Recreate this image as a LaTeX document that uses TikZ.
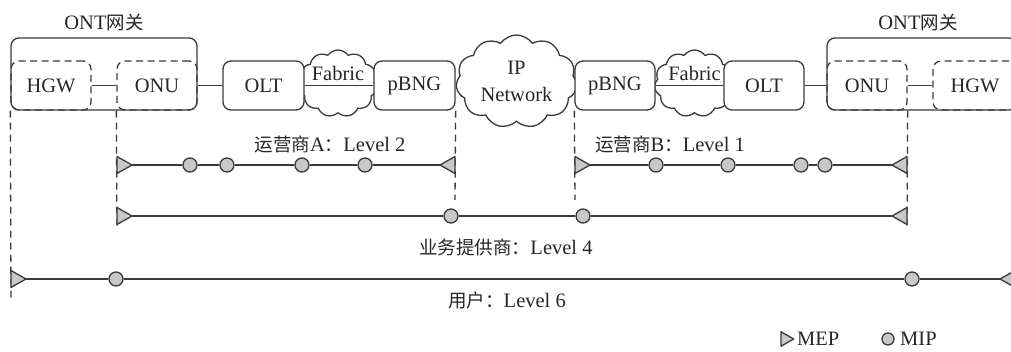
\documentclass[tikz,border=0pt]{standalone}
\usepackage{fontspec}
\setmainfont{Liberation Serif}
\newfontfamily\cjk{Noto Sans CJK SC}
\usetikzlibrary{shapes.symbols}

\definecolor{ink}{HTML}{262626}
\definecolor{wire}{HTML}{3A3A3A}
\definecolor{markfill}{HTML}{C8C8C8}

\newcommand\lblsize{\fontsize{20.5}{27}\selectfont}
\newcommand\zh[1]{{\cjk\fontsize{18.5}{27}\selectfont #1}}

\tikzset{
  every node/.style={text=ink},
  unitbox/.style={draw=wire, line width=1.3pt, rounded corners=8pt, fill=white,
    minimum width=81pt, minimum height=49pt, inner sep=0pt, font=\lblsize},
  ontbox/.style={draw=wire, line width=1.3pt, rounded corners=8pt,
    minimum height=72pt, inner sep=0pt},
  subbox/.style={draw=wire, line width=1.3pt, rounded corners=8pt,
    dash pattern=on 7pt off 4.5pt, minimum width=80pt, minimum height=49pt,
    inner sep=0pt, font=\lblsize},
  netcloud/.style={cloud, cloud puffs=11, cloud puff arc=110, cloud ignores aspect,
    draw=wire, line width=1.3pt, fill=white, inner sep=0pt, font=\lblsize},
  link/.style={draw=wire, line width=1.3pt},
  guide/.style={draw=wire, line width=1.3pt, dash pattern=on 7pt off 5pt},
  level/.style={draw=wire, line width=1.3pt},
  mip/.style={circle, draw=wire, line width=1.3pt, fill=markfill,
    minimum size=14pt, inner sep=0pt},
  lbl/.style={font=\lblsize, inner sep=0pt},
  mepright/.pic={\filldraw[draw=wire, fill=markfill, line width=1.3pt, line join=round]
    (0,-8.5) -- (15,0) -- (0,8.5) -- cycle;},
  mepleft/.pic={\filldraw[draw=wire, fill=markfill, line width=1.3pt, line join=round]
    (0,-8.5) -- (-15,0) -- (0,8.5) -- cycle;},
}

\begin{document}
\begin{tikzpicture}[x=1pt, y=-1pt]
\useasboundingbox (0,0) rectangle (1011,352);
\clip (0,0) rectangle (1011,352);

% ---- access chain, left side ----
\node[ontbox, minimum width=186pt] (ontL) at (104,74) {};
\node[lbl] (ontLt) at (104,23) {ONT\zh{网关}};
\node[subbox] (hgwL) at (51,85.5) {HGW};
\node[subbox] (onuL) at (157,85.5) {ONU};

\node[netcloud, minimum width=79pt, minimum height=67pt] (fabL) at (338,83.5) {};
\node[unitbox] (oltL) at (263.5,85.5) {OLT};
\node[unitbox] (pbngL) at (414.5,85.5) {pBNG};
\node[lbl] (fabLt) at (338,73) {Fabric};

% ---- core ----
\node[netcloud, minimum width=121pt, minimum height=93pt, align=center] (ipnet)
  at (516.5,81.5) {IP\\Network};

% ---- access chain, right side ----
\node[netcloud, minimum width=80pt, minimum height=67pt] (fabR) at (694.5,83.5) {};
\node[unitbox, minimum width=80pt] (pbngR) at (615,85.5) {pBNG};
\node[unitbox, minimum width=80pt] (oltR) at (764,85.5) {OLT};
\node[lbl] (fabRt) at (694.5,73) {Fabric};

\node[ontbox, minimum width=190pt] (ontR) at (922,74) {};
\node[lbl] (ontRt) at (918,23) {ONT\zh{网关}};
\node[subbox] (onuR) at (867,85.5) {ONU};
\node[subbox, minimum width=84pt] (hgwR) at (975,85.5) {HGW};

% ---- physical links ----
\draw[link] (hgwL.east) -- (onuL.west);
\draw[link] (onuL.east) -- (oltL.west);
\draw[link] (oltL.east) -- (pbngL.west);
\draw[link] (pbngR.east) -- (oltR.west);
\draw[link] (oltR.east) -- (onuR.west);
\draw[link] (onuR.east) -- (hgwR.west);

% ---- domain boundaries ----
\coordinate (gU1) at (11,302);
\coordinate (gS1) at (117,230);
\coordinate (gA2) at (455,200);
\coordinate (gB1) at (575,200);
\coordinate (gS2) at (907,230);
\coordinate (gU2) at (1017,302);
\draw[guide] (hgwL.south west) -- (gU1);
\draw[guide] (onuL.south west) -- (gS1);
\draw[guide] (pbngL.south east) -- (gA2);
\draw[guide] (pbngR.south west) -- (gB1);
\draw[guide] (onuR.south east) -- (gS2);
\draw[guide] (hgwR.south east) -- (gU2);

% ---- operator A, level 2 ----
\node[lbl] (labA) at (330,144) {\zh{运营商}A\zh{：}Level 2};
\coordinate (a1) at (117,165);
\coordinate (a2) at (455,165);
\node[mip] (ma1) at (190,165) {};
\node[mip] (ma2) at (227,165) {};
\node[mip] (ma3) at (302,165) {};
\node[mip] (ma4) at (365,165) {};
\draw[level] ([xshift=15pt]a1) -- (ma1) -- (ma2) -- (ma3) -- (ma4) -- ([xshift=-15pt]a2);
\pic at (a1) {mepright};
\pic at (a2) {mepleft};

% ---- operator B, level 1 ----
\node[lbl] (labB) at (670,144) {\zh{运营商}B\zh{：}Level 1};
\coordinate (b1) at (575,165);
\coordinate (b2) at (907,165);
\node[mip] (mb1) at (656,165) {};
\node[mip] (mb2) at (728,165) {};
\node[mip] (mb3) at (801,165) {};
\node[mip] (mb4) at (825,165) {};
\draw[level] ([xshift=15pt]b1) -- (mb1) -- (mb2) -- (mb3) -- (mb4) -- ([xshift=-15pt]b2);
\pic at (b1) {mepright};
\pic at (b2) {mepleft};

% ---- service provider, level 4 ----
\coordinate (s1) at (117,216);
\coordinate (s2) at (907,216);
\node[mip] (ms1) at (451,216) {};
\node[mip] (ms2) at (583,216) {};
\draw[level] ([xshift=15pt]s1) -- (ms1) -- (ms2) -- ([xshift=-15pt]s2);
\pic at (s1) {mepright};
\pic at (s2) {mepleft};
\node[lbl] (labS) at (506,247) {\zh{业务提供商：}Level 4};

% ---- user, level 6 ----
\coordinate (u1) at (11,279);
\coordinate (u2) at (1015,279);
\node[mip] (mu1) at (116,279) {};
\node[mip] (mu2) at (912,279) {};
\draw[level] ([xshift=15pt]u1) -- (mu1) -- (mu2) -- ([xshift=-15pt]u2);
\pic at (u1) {mepright};
\pic at (u2) {mepleft};
\node[lbl] (labU) at (507,300) {\zh{用户：}Level 6};

% ---- legend ----
\coordinate (kMEP) at (781,339);
\pic[scale=0.85] at (kMEP) {mepright};
\node[lbl, anchor=west] (kMEPt) at (797,339) {MEP};
\node[mip, minimum size=12pt] (kMIP) at (888,339) {};
\node[lbl, anchor=west] (kMIPt) at (900,339) {MIP};
\end{tikzpicture}
\end{document}
